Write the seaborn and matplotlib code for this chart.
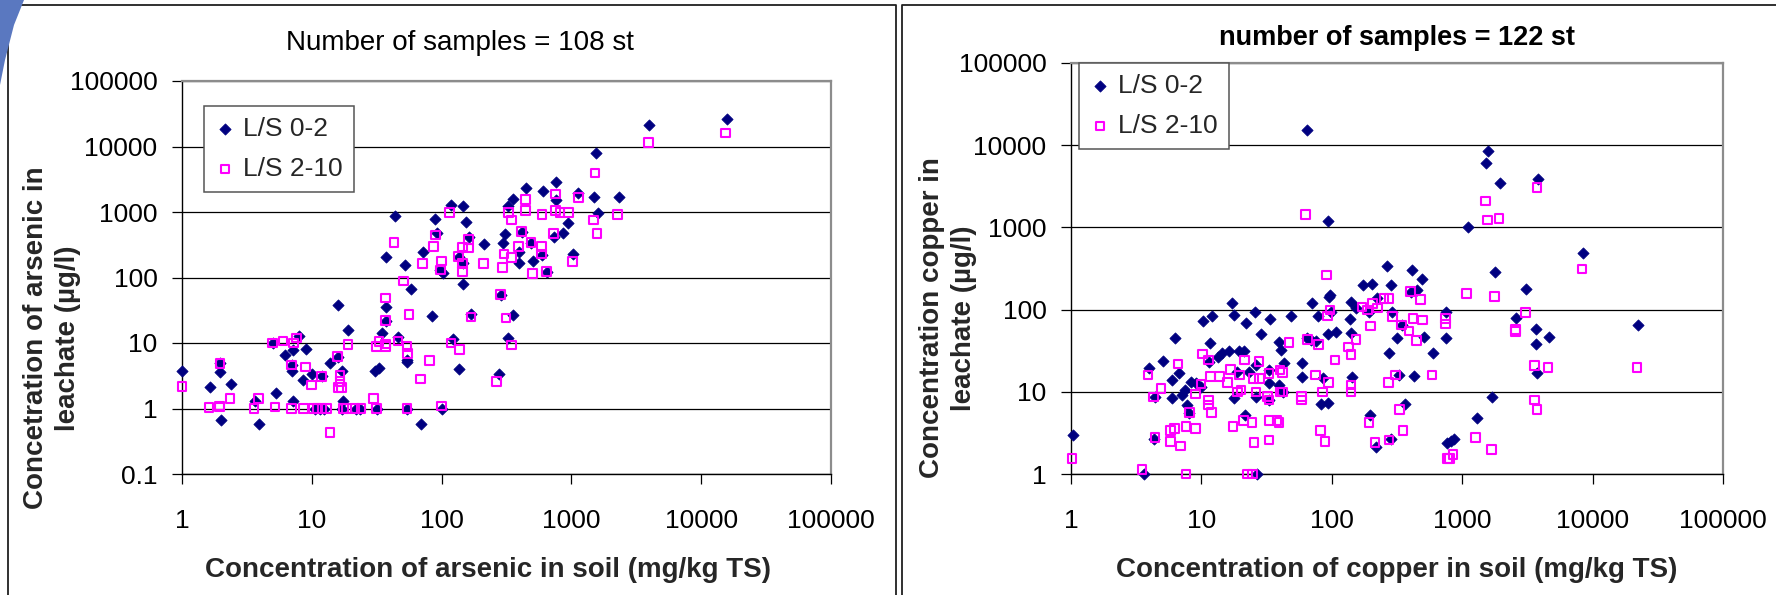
import numpy as np
import pandas as pd
import matplotlib
matplotlib.use("Agg")
import matplotlib.pyplot as plt
import seaborn as sns
from matplotlib.patches import Polygon
from matplotlib.lines import Line2D

# ---------------- data ----------------
series_names = ["L/S 0-2", "L/S 2-10"]

as_soil_02 = [1.0, 1.64, 2.0, 1.96, 1.96, 2.37, 3.65, 3.94, 5.3, 5.0,
              6.2, 7.2, 9.0, 7.9, 7.0, 7.0, 7.2, 8.6, 10, 11.9,
              13.8, 15.8, 17, 17.5, 10.5, 11.5, 12.5, 17, 22, 23.5,
              31.6, 54, 30.5, 33, 34.5, 37, 37, 37, 44, 52,
              58, 16, 19, 46, 84, 72, 89, 92, 98, 103,
              118, 147, 154, 163, 135, 145, 147, 169, 213, 122,
              54.6, 54.6, 100, 70, 137, 278, 3980, 15700, 1550, 761,
              608, 447, 353, 327, 761, 1130, 1490, 2310, 1610, 936,
              857, 738, 1035, 645, 509, 590, 490, 414, 392, 392,
              308, 299, 285, 353, 327]
as_leach_02 = [3.7, 2.1, 0.67, 4.9, 3.65, 2.34, 1.3, 0.57, 1.7, 10,
               6.6, 7.8, 8.0, 13, 4.6, 3.7, 1.32, 2.7, 3.4, 3.1,
               4.9, 6.2, 3.8, 1.28, 1.0, 1.0, 1.0, 1.0, 1.0, 1.0,
               1.0, 1.0, 3.8, 4.1, 14, 36, 22, 203, 870, 155,
               66, 38, 16, 12.5, 26, 248, 773, 484, 130, 118,
               1280, 1235, 711, 420, 208, 165, 80, 28, 325, 11.7,
               5.5, 5.2, 1.0, 0.58, 4.0, 3.4, 21300, 26000, 7870, 2900,
               2110, 2300, 1560, 1240, 1520, 1970, 1710, 1710, 955, 673,
               483, 420, 229, 123, 181, 221, 340, 501, 165, 248,
               456, 340, 55, 27, 11.8]

as_soil_210 = [1.0, 1.62, 1.95, 1.95, 1.96, 2.34, 3.87, 3.6, 5.2, 5.0,
               6.0, 7.2, 7.6, 7.0, 8.9, 7.0, 8.6, 9.9, 11.9, 15.8,
               16.5, 16.5, 17, 16, 10.3, 11, 12, 13, 17.5, 18.5,
               21.5, 24, 31.6, 54, 13.8, 29.8, 19, 33, 37, 46,
               54, 31.6, 37, 54.6, 69, 81, 100, 43, 51, 37,
               37, 56, 71, 90, 87, 98, 100, 115, 161, 145,
               161, 135, 145, 145, 169, 210, 118, 137, 266, 3910,
               15400, 1520, 752, 442, 327, 347, 442, 594, 752, 815,
               948, 1130, 2270, 1475, 1570, 726, 1023, 645, 504, 590,
               590, 490, 414, 392, 347, 303, 294, 285, 313, 347]
as_leach_210 = [2.15, 1.03, 1.1, 1.05, 4.9, 1.43, 1.43, 1.0, 1.05, 10,
                10.7, 10, 12, 4.6, 4.3, 1.0, 1.0, 2.3, 3.1, 6.2,
                3.2, 2.6, 2.1, 2.1, 1.0, 1.0, 1.0, 1.0, 1.0, 1.0,
                1.0, 1.0, 1.0, 1.0, 0.43, 1.43, 9.5, 10.6, 9.6, 10.7,
                8.8, 8.8, 8.8, 6.9, 2.8, 5.4, 1.1, 340, 88, 49,
                22, 27, 163, 446, 295, 130, 179, 975, 383, 290,
                280, 208, 165, 123, 25, 165, 10, 8, 2.6, 11400,
                16100, 3940, 1880, 1560, 977, 755, 1050, 922, 1050, 975,
                975, 1670, 910, 755, 473, 473, 174, 123, 116, 295,
                229, 340, 501, 295, 204, 229, 141, 55, 24, 9.3]

cu_soil_02 = [64, 93, 97, 1.03, 3.6, 3.94, 4.43, 4.35, 5.04, 5.94,
              5.94, 6.3, 6.77, 7.1, 7.7, 8.07, 8.3, 9.1, 7.5, 9.9,
              10.3, 12, 11.6, 11.5, 13.5, 14.5, 16.3, 19.5, 21.3, 17.1,
              17.8, 21.9, 25.9, 28.6, 33.5, 39.5, 40.7, 43.1, 23.3, 26.2,
              18.9, 17.8, 26.2, 33.1, 33.1, 33.1, 39.5, 41.9, 21.7, 26.5,
              48.5, 59.6, 59.6, 65, 69, 75, 70, 79, 95, 94,
              107, 85, 82, 93, 98, 140, 138, 140, 142, 153,
              172, 205, 193, 224, 267, 283, 292, 275, 319, 347,
              410, 490, 453, 403, 510, 598, 328, 428, 365, 196,
              217, 283, 748, 748, 770, 1580, 1530, 1940, 3810, 1100,
              8430, 1800, 3100, 22200, 2600, 3660, 4600, 3660, 3770, 1700,
              1300, 826, 865]
cu_leach_02 = [15300, 1200, 150, 3.0, 1.0, 19.3, 8.7, 2.7, 23.9, 13.9,
               8.3, 44.7, 17.1, 9.1, 6.9, 5.5, 13.3, 12.7, 10.5, 11.5,
               73, 84, 38.9, 23.3, 26.8, 29.4, 31.7, 31.7, 31.7, 121,
               86, 69, 94, 50.5, 76, 40.7, 32.3, 22.6, 17.6, 21.2,
               17.6, 8.3, 8.7, 18.4, 12.7, 7.9, 12.1, 10, 5.2, 1.0,
               84, 22.6, 15, 45, 43, 41, 119, 84, 144, 51,
               54, 14.6, 7.1, 7.4, 94, 125, 76, 52, 15, 104,
               199, 203, 94, 137, 339, 199, 94, 29.4, 45, 65,
               303, 233, 173, 165, 47, 29.4, 16, 15.6, 7.1, 5.2,
               2.15, 2.7, 94, 45, 2.4, 8570, 6120, 3500, 3880, 1020,
               484, 289, 178, 65, 78, 58, 47, 38, 17, 8.7,
               4.8, 2.5, 2.7]

cu_soil_210 = [63, 91, 1.02, 3.5, 3.9, 4.3, 4.4, 4.9, 6.6, 5.8,
               6.2, 5.8, 6.9, 7.6, 9.0, 7.6, 8.1, 9.0, 9.9, 10.2,
               11.3, 11.3, 11.3, 12, 11.7, 13.7, 15.9, 16.8, 17.5, 18.9,
               20.1, 19.5, 21, 24.4, 21.3, 22.6, 24.7, 25, 28, 25.4,
               26.2, 27.7, 32, 33, 33, 33, 33, 40, 42, 40,
               42, 38, 39.5, 47, 58.6, 58.6, 65, 79, 75, 82,
               85, 89, 93, 97, 94, 106, 134, 140, 153, 140,
               140, 170, 188, 205, 224, 252, 275, 199, 193, 214,
               275, 272, 309, 332, 352, 292, 344, 391, 420, 448,
               495, 403, 481, 588, 748, 748, 770, 3740, 1510, 1560,
               1910, 8280, 1080, 1770, 21900, 3050, 2570, 2570, 3590, 4540,
               3590, 3740, 1270, 1670, 802, 851]
cu_leach_210 = [1440, 264, 1.55, 1.14, 16, 8.6, 2.8, 11, 21.8, 3.4,
                3.6, 2.5, 2.2, 3.8, 3.6, 1.0, 5.6, 9.4, 12.4, 28.8,
                24.4, 7.9, 6.9, 5.6, 15.3, 15.3, 12.9, 18.8, 3.8, 10,
                10.5, 16, 4.5, 4.2, 24.4, 1.0, 1.0, 14.6, 14.6, 2.4,
                10, 23.3, 8.7, 7.9, 16.8, 4.5, 2.6, 18.4, 17.1, 10,
                10, 4.5, 4.2, 39.6, 8.7, 7.9, 43.5, 37.8, 16, 3.4,
                10, 2.5, 84, 99, 12.9, 24.4, 35, 28.6, 43.5, 12.1,
                10, 107, 99, 119, 104, 137, 137, 63, 4.2, 2.4,
                2.6, 12.9, 16, 6.1, 3.4, 82, 65, 55, 78, 42,
                75, 165, 133, 16, 78, 67, 1.55, 3040, 2090, 1230,
                1290, 312, 158, 144, 19.9, 92, 57.5, 54, 20.8, 19.9,
                7.9, 6.1, 2.8, 2.0, 1.55, 1.73]

x_ticks = [1, 10, 100, 1000, 10000, 100000]
x_tick_labels = ["1", "10", "100", "1000", "10000", "100000"]
as_y_ticks = [0.1, 1, 10, 100, 1000, 10000, 100000]
as_y_tick_labels = ["0.1", "1", "10", "100", "1000", "10000", "100000"]
cu_y_ticks = [1, 10, 100, 1000, 10000, 100000]
cu_y_tick_labels = ["1", "10", "100", "1000", "10000", "100000"]

# ---------------- style ----------------
sns.set_theme(style="white")
plt.rcParams["font.family"] = ["Liberation Sans", "DejaVu Sans"]

NAVY = "#000080"
MAGENTA = "#FF00FF"

W, H = 1776, 595
fig = plt.figure(figsize=(W / 100, H / 100), dpi=100)
fig.patch.set_facecolor("white")


def fx(px):
    return px / W


def fy(py):
    return 1 - py / H


# chart frames
frame_kw = dict(color="#202020", lw=1.3, transform=fig.transFigure)
fig.add_artist(Line2D([fx(8), fx(8), fx(896), fx(896)],
                      [0, fy(5), fy(5), 0], **frame_kw))
fig.add_artist(Line2D([fx(902), fx(902), 1.0],
                      [0, fy(5), fy(5)], **frame_kw))

# decorative slide corner
corner = Polygon([(fx(0), fy(0)), (fx(24), fy(0)), (fx(14), fy(25)),
                  (fx(5), fy(60)), (fx(0), fy(85))],
                 closed=True, transform=fig.transFigure,
                 facecolor="#5a78c0", edgecolor="none", zorder=5)
fig.add_artist(corner)


def make_panel(rect, soil02, leach02, soil210, leach210,
               yticks, ylabels, ylim, legend_xy):
    ax = fig.add_axes(rect)
    df02 = pd.DataFrame({"soil": soil02, "leach": leach02})
    df210 = pd.DataFrame({"soil": soil210, "leach": leach210})
    sns.scatterplot(data=df02, x="soil", y="leach", ax=ax, marker="D",
                    s=33, color=NAVY, edgecolor=NAVY, linewidth=0.5,
                    label=series_names[0], clip_on=False, zorder=3)
    sns.scatterplot(data=df210, x="soil", y="leach", ax=ax, marker="s",
                    s=38, color=MAGENTA, linewidth=1.5,
                    label=series_names[1], clip_on=False, zorder=4)
    sq = ax.collections[-1]
    sq.set_facecolor("none")
    sq.set_edgecolor(MAGENTA)

    ax.set_xscale("log")
    ax.set_yscale("log")
    ax.set_xlim(1, 100000)
    ax.set_ylim(*ylim)
    ax.set_xticks(x_ticks)
    ax.set_xticklabels(x_tick_labels)
    ax.set_yticks(yticks)
    ax.set_yticklabels(ylabels)
    ax.minorticks_off()
    ax.set_xlabel("")
    ax.set_ylabel("")
    ax.set_axisbelow(True)
    ax.yaxis.grid(True, color="black", lw=0.9)
    ax.xaxis.grid(False)
    ax.tick_params(axis="both", which="major", direction="out",
                   length=7.2, width=0.9, color="black",
                   labelsize=19, labelcolor="black")
    ax.tick_params(axis="y", pad=10.5, left=True)
    ax.tick_params(axis="x", pad=18, bottom=True)
    for side in ["left", "bottom"]:
        ax.spines[side].set_color("black")
        ax.spines[side].set_linewidth(1.0)
    for side in ["top", "right"]:
        ax.spines[side].set_color("#8c8c8c")
        ax.spines[side].set_linewidth(1.6)
        ax.spines[side].set_visible(True)
    ax.set_facecolor("white")

    leg = ax.legend(loc="upper left", bbox_to_anchor=legend_xy,
                    bbox_transform=fig.transFigure, borderaxespad=0,
                    fontsize=19, frameon=True, fancybox=False,
                    framealpha=1, edgecolor="#555555",
                    borderpad=0.42, labelspacing=0.6,
                    handlelength=0.76, handletextpad=0.3)
    leg.get_frame().set_linewidth(1.1)
    return ax


ax1 = make_panel([fx(182), fy(474), fx(831) - fx(182), fy(81) - fy(474)],
                 as_soil_02, as_leach_02, as_soil_210, as_leach_210,
                 as_y_ticks, as_y_tick_labels, (0.1, 100000),
                 (fx(204), fy(106)))
ax2 = make_panel([fx(1071), fy(474), fx(1723) - fx(1071), fy(63) - fy(474)],
                 cu_soil_02, cu_leach_02, cu_soil_210, cu_leach_210,
                 cu_y_ticks, cu_y_tick_labels, (1, 100000),
                 (fx(1079), fy(63)))

# titles
fig.text(fx(460), fy(50), "Number of samples = 108 st", ha="center",
         va="baseline", fontsize=20, color="black")
fig.text(fx(1397), fy(45), "number of samples = 122 st", ha="center",
         va="baseline", fontsize=19.5, fontweight="bold", color="black")

# axis labels
fig.text(fx(488), fy(577), "Concentration of arsenic in soil (mg/kg TS)",
         ha="center", va="baseline", fontsize=20, fontweight="bold")
fig.text(fx(1397), fy(577), "Concentration of copper in soil (mg/kg TS)",
         ha="center", va="baseline", fontsize=20, fontweight="bold")
fig.text(fx(52), fy(338), "Concetration of arsenic in\nleachate (µg/l)",
         ha="center", va="center", rotation=90, fontsize=20,
         fontweight="bold", multialignment="center", linespacing=1.3)
fig.text(fx(948), fy(318), "Concentration copper in\nleachate (µg/l)",
         ha="center", va="center", rotation=90, fontsize=20,
         fontweight="bold", multialignment="center", linespacing=1.3)

fig.savefig("out.png", dpi=100, facecolor="white")
